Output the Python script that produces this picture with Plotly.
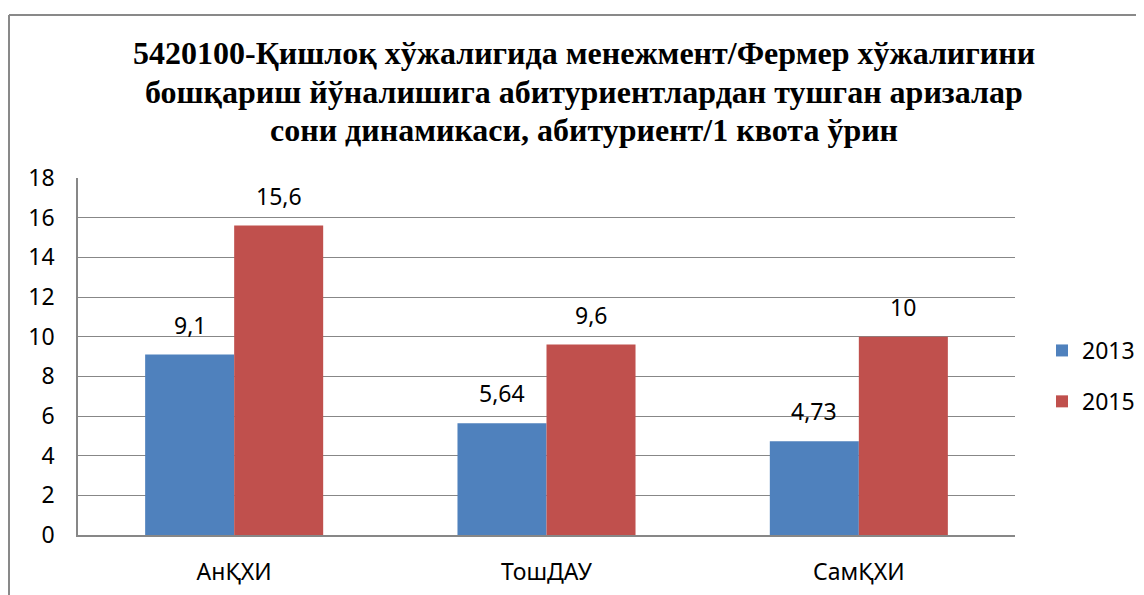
import plotly.graph_objects as go

categories = ["АнҚХИ", "ТошДАУ", "СамҚХИ"]
series_names = ["2013", "2015"]
values_2013 = [9.1, 5.64, 4.73]
values_2015 = [15.6, 9.6, 10]
y_ticks = [0, 2, 4, 6, 8, 10, 12, 14, 16, 18]
title_lines = [
    "5420100-Қишлоқ хўжалигида менежмент/Фермер хўжалигини",
    "бошқариш йўналишига абитуриентлардан тушган аризалар",
    "сони динамикаси, абитуриент/1 квота ўрин",
]

colors = ["#4F81BD", "#C0504D"]
font_sans = "Noto Sans, Open Sans, sans-serif"
font_title = "Liberation Serif, Times New Roman, serif"
FS = 23
# page has an 8px body margin, so the figure is sized / offset to compensate
OFF = 8
W, H = 1144 - OFF, 595 - OFF
L, R, T, B = 78 - OFF, 1015 - OFF, 178 - OFF, 535 - OFF
BARGAP = 0.43


def fmt(v):
    return f"{v:g}".replace(".", ",")


def px_x(px):
    return (px - OFF - L) / (R - L)


def px_y(py):
    return (B - (py - OFF)) / (B - T)


fig = go.Figure()
all_series = [values_2013, values_2015]
for i, (name, vals) in enumerate(zip(series_names, all_series)):
    fig.add_trace(go.Bar(
        x=categories, y=vals, name=name,
        marker=dict(color=colors[i], line=dict(width=0)),
        legendgroup=name,
    ))

# data labels placed above each bar
cat_px = (R - L) / len(categories)
bar_px = cat_px * (1 - BARGAP) / len(series_names)
for i, vals in enumerate(all_series):
    shift = (i - (len(series_names) - 1) / 2) * bar_px
    for c, v in zip(categories, vals):
        fig.add_annotation(
            x=c, y=v, xref="x", yref="y", text=fmt(v), showarrow=False,
            xshift=shift, yshift=12, yanchor="bottom", xanchor="center",
            font=dict(family=font_sans, size=FS, color="#000000"),
        )

# chart title, one line per annotation to match the tighter line spacing
title_centers = [53.5, 91.8, 129.5]
for line, cy in zip(title_lines, title_centers):
    fig.add_annotation(
        x=px_x(584), y=px_y(cy), xref="paper", yref="paper",
        text=f"<b>{line}</b>", showarrow=False,
        xanchor="center", yanchor="middle",
        font=dict(family=font_title, size=32, color="#000000"),
    )

fig.update_layout(
    width=W, height=H,
    margin=dict(l=L, r=W - R, t=T, b=H - B, pad=0, autoexpand=False),
    paper_bgcolor="white", plot_bgcolor="white",
    barmode="group", bargap=BARGAP, bargroupgap=0,
    showlegend=True,
    legend=dict(
        x=(1034 - L) / (R - L), xanchor="left",
        y=(B - 368) / (B - T), yanchor="middle",
        font=dict(family=font_sans, size=FS, color="#000000"),
        tracegroupgap=18,
        bgcolor="rgba(0,0,0,0)",
    ),
    font=dict(family=font_sans, size=FS, color="#000000"),
)

fig.update_yaxes(
    range=[0, 18], tickvals=y_ticks, ticktext=[str(t) for t in y_ticks],
    showgrid=True, gridcolor="#878787", gridwidth=1,
    showline=True, linecolor="#878787", linewidth=1.5,
    zeroline=False, ticks="", ticklabelstandoff=17, automargin=False,
    tickfont=dict(family=font_sans, size=FS, color="#000000"),
    fixedrange=True,
)
fig.update_xaxes(
    showline=True, linecolor="#878787", linewidth=2,
    showgrid=False, ticks="", ticklabelstandoff=15, automargin=False,
    tickfont=dict(family=font_sans, size=FS, color="#000000"),
    fixedrange=True,
)

# outer chart frame (left and top edges visible in the reference)
fx0 = px_x(9)
fy1 = px_y(15)
fig.add_shape(type="line", xref="paper", yref="paper",
              x0=fx0, x1=fx0, y0=fy1, y1=-0.3,
              line=dict(color="#898989", width=2))
fig.add_shape(type="line", xref="paper", yref="paper",
              x0=fx0, x1=1.2, y0=fy1, y1=fy1,
              line=dict(color="#898989", width=2))

fig.write_html("out.html")
